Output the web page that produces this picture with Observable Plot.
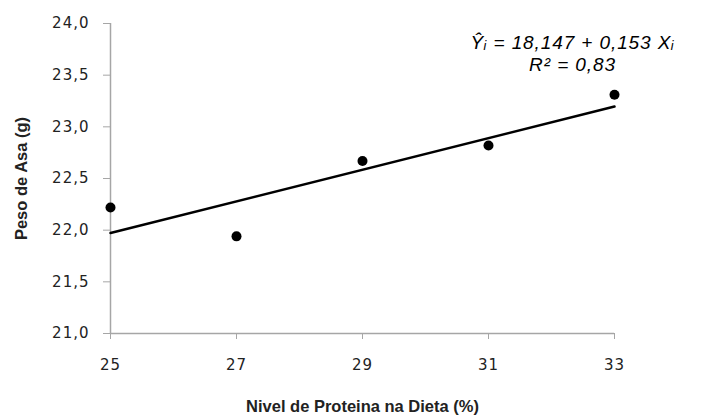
<!DOCTYPE html>
<html>
<head>
<meta charset="utf-8">
<script src="https://cdn.jsdelivr.net/npm/d3@7"></script>
<script src="https://cdn.jsdelivr.net/npm/@observablehq/plot@0.6"></script>
<style>
  html, body { margin: 0; padding: 0; background: #ffffff; }
</style>
</head>
<body>
<div id="chart"></div>
<script>
// Data
const proteina = [25, 27, 29, 31, 33];           // Nivel de Proteina na Dieta (%)
const peso = [22.22, 21.94, 22.67, 22.82, 23.31]; // Peso de Asa (g)
const intercepto = 18.147;
const inclinacao = 0.153;
const xTicks = [25, 27, 29, 31, 33];
const yTicks = [21.0, 21.5, 22.0, 22.5, 23.0, 23.5, 24.0];
const equacao = ["Ŷᵢ = 18,147 + 0,153 Xᵢ", "R² = 0,83"];
const tituloX = "Nivel de Proteina na Dieta (%)";
const tituloY = "Peso de Asa (g)";

const pontos = proteina.map((x, i) => ({x, y: peso[i]}));
const xExtremos = [d3.min(proteina), d3.max(proteina)];
const reta = xExtremos.map(x => ({x, y: intercepto + inclinacao * x}));
const fmt = d => d.toFixed(1).replace(".", ",");

const axisGray = "#a6a6a6";
const textColor = "#222222";

const chart = Plot.plot({
  width: 712,
  height: 416,
  marginLeft: 110,
  marginRight: 98,
  marginTop: 23,
  marginBottom: 83,
  style: {fontFamily: "DejaVu Sans", fontSize: "15px", color: textColor, background: "#ffffff", overflow: "visible"},
  x: {domain: [25, 33]},
  y: {domain: [21, 24]},
  marks: [
    Plot.ruleY([21], {stroke: axisGray, strokeWidth: 1.5}),
    Plot.ruleX([25], {stroke: axisGray, strokeWidth: 1.5}),
    Plot.axisX({ticks: xTicks, tickSize: 6, tickPadding: 20, stroke: axisGray, fill: textColor, label: null, tickFormat: d => String(d)}),
    Plot.axisY({ticks: yTicks, tickSize: 7, tickPadding: 14, stroke: axisGray, fill: textColor, label: null, tickFormat: fmt}),
    Plot.line(reta, {x: "x", y: "y", stroke: "#000000", strokeWidth: 2.5}),
    Plot.dot(pontos, {x: "x", y: "y", r: 5, fill: "#000000", stroke: "none"}),
    Plot.text([equacao.join("\n")], {
      frameAnchor: "top", dx: 210, dy: 9.5, lineHeight: 1.16, lineAnchor: "top",
      textAnchor: "middle", fontStyle: "italic", fontFamily: "Liberation Sans", fontSize: 19, fill: "#000000"
    }),
    Plot.text([tituloX], {
      frameAnchor: "bottom", dy: 78, lineAnchor: "bottom", textAnchor: "middle",
      fontWeight: "bold", fontFamily: "Liberation Sans", fontSize: 16.5, fill: textColor
    }),
    Plot.text([tituloY], {
      frameAnchor: "left", dx: -95, rotate: -90, lineAnchor: "top", textAnchor: "middle",
      fontWeight: "bold", fontFamily: "Liberation Sans", fontSize: 16.5, fill: textColor
    })
  ]
});
document.getElementById("chart").appendChild(chart);
// letter spacing to mimic the wider glyphs of the original
d3.select(chart).selectAll("g[aria-label='y-axis tick label'] text, g[aria-label='x-axis tick label'] text").attr("letter-spacing", "1px");
d3.select(chart).selectAll("g[aria-label='text'] text").filter(function() { return this.textContent.includes("18,147") || this.textContent.includes("0,83"); }).attr("letter-spacing", "0.9px");
</script>
</body>
</html>
